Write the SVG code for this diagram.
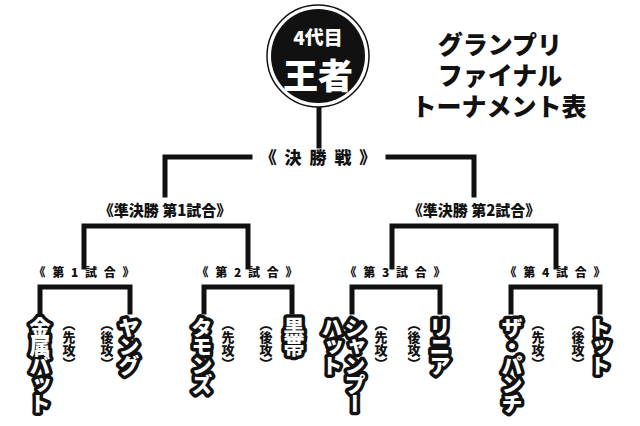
<svg xmlns="http://www.w3.org/2000/svg" width="640" height="426" viewBox="0 0 640 426">
<style>
text{font-family:"Noto Sans CJK JP","Noto Sans",sans-serif;font-weight:900}
.ln{fill:none;stroke:#111;stroke-width:5;stroke-linecap:square}
.t1{font-size:17px;text-anchor:middle;fill:#111}
.t2{font-size:15px;text-anchor:middle;fill:#111}
.t3{font-size:12px;text-anchor:middle;fill:#111;letter-spacing:2px}
.nm{font-size:21px;fill:#fff;stroke:#111;stroke-width:7;paint-order:stroke;stroke-linejoin:round;writing-mode:vertical-rl;letter-spacing:-2px}
.sd{font-size:13px;fill:#111;writing-mode:vertical-rl}
.ti{font-size:25px;fill:#111;text-anchor:middle}
</style>
<rect width="640" height="426" fill="#fff"/>
<g id="connectors">
<path class="ln" d="M319 106V146"/>
<path class="ln" d="M250 157H165V195M388 157H474V195"/>
<path class="ln" d="M84 267V226H248V267M392 267V226H556V267"/>
<path class="ln" d="M40 312V287H130V312M204 312V287H292V312M352 312V287H440V312M511 312V287H600V312"/>
</g>
<g id="champion">
<circle cx="318" cy="56" r="51" fill="#fff" stroke="#111" stroke-width="1.5"/>
<circle cx="318" cy="56" r="47" fill="#111"/>
<text x="318" y="45" font-size="19" fill="#fff" text-anchor="middle">4代目</text>
<text x="318" y="89" font-size="35" fill="#fff" text-anchor="middle">王者</text>
</g>
<g id="title">
<text class="ti" x="500" y="54">グランプリ</text>
<text class="ti" x="500" y="85">ファイナル</text>
<text class="ti" x="499" y="116">トーナメント表</text>
</g>
<g id="final"><text class="t1" x="319" y="164" letter-spacing="2">《 決 勝 戦 》</text></g>
<g id="semi1"><text class="t2" x="165" y="216">《準決勝 第1試合》</text></g>
<g id="semi2"><text class="t2" x="474" y="216">《準決勝 第2試合》</text></g>
<g id="m1"><text class="t3" x="85" y="277">《 第 1 試 合 》</text></g>
<g id="m2"><text class="t3" x="248" y="277">《 第 2 試 合 》</text></g>
<g id="m3"><text class="t3" x="396" y="277">《 第 3 試 合 》</text></g>
<g id="m4"><text class="t3" x="556" y="277">《 第 4 試 合 》</text></g>
<g id="kinzoku"><text class="nm" x="40" y="317">金属バット</text><text class="sd" x="69" y="318">（先攻）</text></g>
<g id="young"><text class="nm" x="129" y="317">ヤング</text><text class="sd" x="107" y="318">（後攻）</text></g>
<g id="tamons"><text class="nm" x="202" y="317">タモンズ</text><text class="sd" x="228" y="318">（先攻）</text></g>
<g id="kuroobi"><text class="nm" x="294" y="317">黒帯</text><text class="sd" x="266" y="318">（後攻）</text></g>
<g id="shampoo"><text class="nm" x="355" y="317">シャンプー</text><text class="nm" x="332" y="317">ハット</text><text class="sd" x="381" y="318">（先攻）</text></g>
<g id="linear"><text class="nm" x="440" y="317">リニア</text><text class="sd" x="414" y="318">（後攻）</text></g>
<g id="thepunch"><text class="nm" x="512" y="317">ザ・パンチ</text><text class="sd" x="538" y="318">（先攻）</text></g>
<g id="tot"><text class="nm" x="600" y="317">トット</text><text class="sd" x="578" y="318">（後攻）</text></g>
</svg>
